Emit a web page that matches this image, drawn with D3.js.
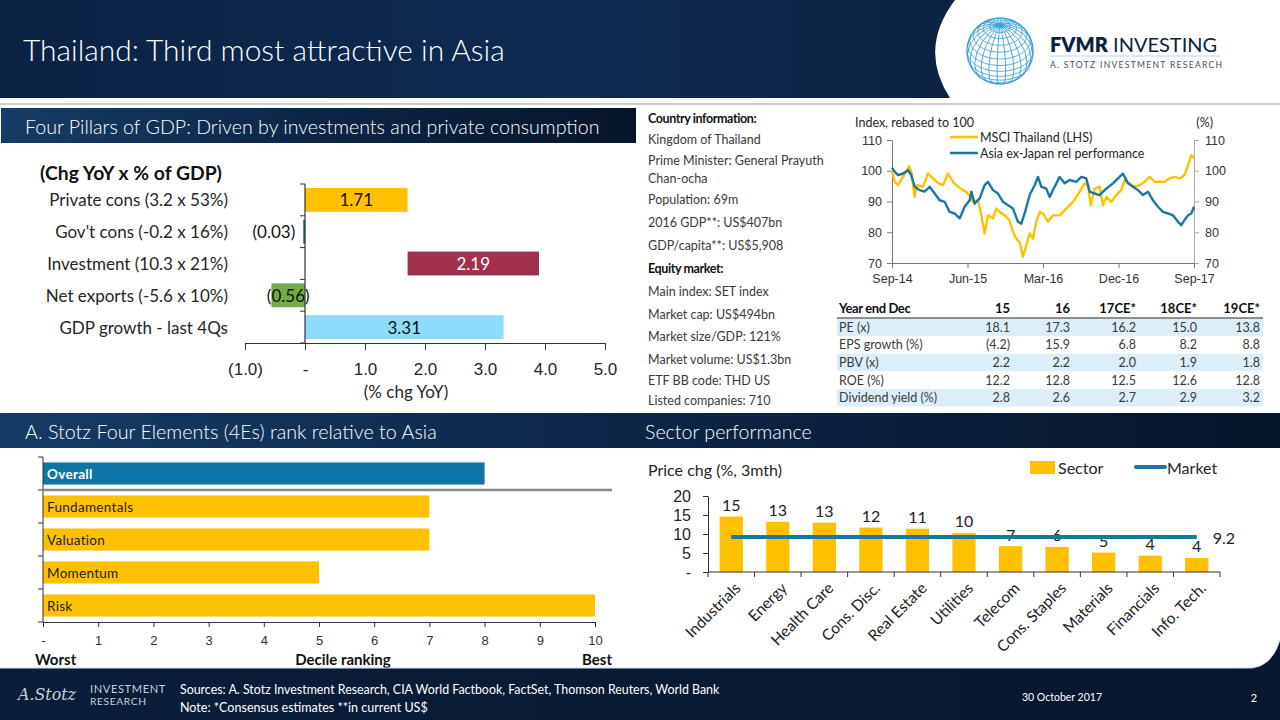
<!DOCTYPE html>
<html><head><meta charset="utf-8">
<script src="https://cdn.jsdelivr.net/npm/d3@7"></script>
<style>
body{margin:0;background:#fff;}
svg{display:block;font-family:Lato,"Open Sans","Noto Sans",sans-serif;}
</style></head>
<body><svg id="c" width="1280" height="720"></svg>
<script>
// ---------------- DATA ----------------
const titleText = "Thailand: Third most attractive in Asia";
const gdpCategories = ["Private cons (3.2 x 53%)","Gov't cons (-0.2 x 16%)","Investment (10.3 x 21%)","Net exports (-5.6 x 10%)","GDP growth - last 4Qs"];
const gdpValues = [1.71, -0.03, 2.19, -0.56, 3.31];
const gdpBase = [0, 0, 1.71, 0, 0];
const gdpValueLabels = ["1.71","(0.03)","2.19","(0.56)","3.31"];
const gdpTicks = [-1, 0, 1, 2, 3, 4, 5];
const gdpTickLabels = ["(1.0)","-","1.0","2.0","3.0","4.0","5.0"];

const countryInfo = [
  ["Country information:", true], ["Kingdom of Thailand", false], ["Prime Minister: General Prayuth", false],
  ["Chan-ocha", false], ["Population: 69m", false], ["2016 GDP**: US$407bn", false],
  ["GDP/capita**: US$5,908", false], ["Equity market:", true], ["Main index: SET index", false],
  ["Market cap: US$494bn", false], ["Market size/GDP: 121%", false], ["Market volume: US$1.3bn", false],
  ["ETF BB code: THD US", false], ["Listed companies: 710", false]
];

// months since Sep-14, index value
const msciThailand = [[0,100],[0.32,96.4],[0.72,95.3],[1.31,98],[1.91,100.8],[2.03,101.5],[2.3,99.7],[2.7,91.5],[2.98,95.3],[3.69,94.8],[4.29,99.1],[4.89,97.5],[5.48,96],[6.08,95.3],[6.67,99.1],[7.27,96.4],[7.87,94.8],[8.46,93.7],[8.98,92.9],[9.65,89.9],[10.25,90.4],[10.65,85.5],[11.04,79.6],[11.44,85.5],[12.04,84.5],[12.44,87.7],[12.83,86.6],[13.43,85.5],[14.02,83.9],[14.42,80.1],[14.82,77.9],[15.22,76.8],[15.61,72],[16.01,75.8],[16.41,79.6],[16.81,77.9],[17.2,83.4],[17.6,86.6],[18,86.1],[18.59,83.4],[19.19,85.5],[19.98,85.5],[20.78,87.7],[21.57,89.9],[22.37,93.2],[22.96,95.9],[23.36,95.3],[23.68,88.8],[24.16,94.2],[24.75,94.8],[25.15,88.8],[25.55,91.5],[26.14,89.9],[26.74,92.1],[27.33,93.7],[27.73,97],[28.33,95.9],[28.92,94.8],[29.52,95.3],[30.11,96.4],[30.71,98],[31.31,96.4],[31.9,96.4],[32.5,96.4],[33.09,97.5],[33.69,98],[34.29,97.5],[34.88,98.6],[35.28,101.8],[35.68,105.1],[36,104]];
const asiaRelPerf = [[0,101],[0.32,99.7],[0.72,98.6],[1.31,99.1],[1.91,100.2],[2.3,98.6],[2.7,94.8],[3.3,93.7],[3.89,93.2],[4.49,94.8],[5.09,92.6],[5.68,90.4],[6.28,89.9],[6.87,86.6],[7.47,86.1],[8.07,84.5],[8.66,88.3],[9.26,90.4],[9.46,93.2],[9.85,89.3],[10.45,91],[11.04,95.3],[11.44,96.4],[12.04,93.7],[12.63,92.6],[13.23,89.9],[13.83,88.8],[14.42,87.7],[15.02,83.4],[15.42,82.8],[15.81,86.1],[16.41,92.1],[17,95.3],[17.4,98],[17.8,94.8],[18.39,94.2],[18.79,91.5],[19.39,94.8],[19.98,98],[20.58,95.9],[21.18,97],[21.97,96.4],[22.57,98],[23.16,97.5],[23.56,93.2],[24.16,92.6],[24.75,92.1],[25.15,93.2],[25.55,94.2],[26.34,95.9],[26.94,97.5],[27.53,99.1],[28.13,95.9],[28.72,94.8],[29.32,93.7],[29.92,92.1],[30.51,93.2],[31.11,90.4],[31.7,88.3],[32.3,86.6],[32.9,86.1],[33.49,85.5],[34.09,83.4],[34.49,82.3],[34.88,84],[35.28,85.5],[35.68,86.1],[36,88.3]];
const lineTickMonths = [0, 9, 18, 27, 36];
const lineTickLabels = ["Sep-14","Jun-15","Mar-16","Dec-16","Sep-17"];
const lineYTicks = [70, 80, 90, 100, 110];
const lineSeriesNames = ["MSCI Thailand (LHS)", "Asia ex-Japan rel performance"];

const tableHeader = ["Year end Dec","15","16","17CE*","18CE*","19CE*"];
const tableRows = [
  ["PE (x)","18.1","17.3","16.2","15.0","13.8"],
  ["EPS growth (%)","(4.2)","15.9","6.8","8.2","8.8"],
  ["PBV (x)","2.2","2.2","2.0","1.9","1.8"],
  ["ROE (%)","12.2","12.8","12.5","12.6","12.8"],
  ["Dividend yield (%)","2.8","2.6","2.7","2.9","3.2"]
];

const elements = ["Overall","Fundamentals","Valuation","Momentum","Risk"];
const elementRanks = [8, 7, 7, 5, 10];
const decileTicks = [0,1,2,3,4,5,6,7,8,9,10];
const decileTickLabels = ["-","1","2","3","4","5","6","7","8","9","10"];

const sectors = ["Industrials","Energy","Health Care","Cons. Disc.","Real Estate","Utilities","Telecom","Cons. Staples","Materials","Financials","Info. Tech."];
const sectorValues = [14.6, 13.2, 13.0, 11.7, 11.4, 10.3, 6.8, 6.6, 5.1, 4.3, 3.7];
const sectorLabels = ["15","13","13","12","11","10","7","6","5","4","4"];
const marketValue = 9.2;
const sectorTicks = [0, 5, 10, 15, 20];
const sectorTickLabels = ["-","5","10","15","20"];

// ---------------- HELPERS ----------------
const svg = d3.select("#c");
const defs = svg.append("defs");
function grad(id, stops, x2 = 1, y2 = 0) {
  const g = defs.append("linearGradient").attr("id", id).attr("x1", 0).attr("y1", 0).attr("x2", x2).attr("y2", y2);
  stops.forEach(s => g.append("stop").attr("offset", s[0]).attr("stop-color", s[1]));
}
grad("hdr", [[0,"#0b2244"],[0.45,"#0f2b52"],[1,"#091a33"]]);
grad("sec", [[0,"#153c66"],[0.5,"#0c2547"],[1,"#07152a"]]);
grad("ftr", [[0,"#0a1d3a"],[1,"#08172e"]]);

function txt(g, x, y, s, o = {}) {
  const t = g.append("text").attr("x", x).attr("y", y).text(s)
    .attr("font-size", o.size || 12).attr("fill", o.fill || "#262626")
    .attr("text-anchor", o.anchor || "start").attr("dominant-baseline", "central");
  if (o.weight) t.attr("font-weight", o.weight);
  if (o.family) t.attr("font-family", o.family);
  if (o.style) t.attr("font-style", o.style);
  if (o.ls) t.attr("letter-spacing", o.ls);
  if (o.fitW) {
    const L = t.node().getComputedTextLength();
    if (L > 0) t.attr("font-size", (o.size || 12) * o.fitW / L);
  }
  return t;
}

// ---------------- HEADER ----------------
svg.append("rect").attr("x",0).attr("y",0).attr("width",1280).attr("height",98).attr("fill","url(#hdr)");
svg.append("path").attr("d","M955,0 Q918,49 950,98 L1280,98 L1280,0 Z").attr("fill","#fff");
svg.append("line").attr("x1",0).attr("x2",1280).attr("y1",104).attr("y2",104).attr("stroke","#c9cdd3").attr("stroke-width",2);
txt(svg, 23, 49, titleText, {size: 28, fill: "#fff", weight: 300, fitW: 482});

// logo globe
const proj = d3.geoOrthographic().scale(33).translate([1000, 51]).rotate([10, -38]).clipAngle(90);
const gpath = d3.geoPath(proj);
svg.append("path").datum({type:"Sphere"}).attr("d", gpath).attr("fill","#fff").attr("stroke","#3b9ed8").attr("stroke-width",1.2);
svg.append("path").datum(d3.geoGraticule().step([15,12])()).attr("d", gpath).attr("fill","none").attr("stroke","#3b9ed8").attr("stroke-width",0.9);
const brand = svg.append("text").attr("x",1050).attr("y",44).attr("dominant-baseline","central").attr("font-size",20).attr("fill","#0d2240");
brand.append("tspan").attr("font-weight",800).text("FVMR");
brand.append("tspan").attr("font-weight",400).text(" INVESTING");
svg.append("line").attr("x1",1050).attr("x2",1220).attr("y1",56).attr("y2",56).attr("stroke","#b9d4e6").attr("stroke-width",1);
txt(svg, 1050, 65, "A. STOTZ INVESTMENT RESEARCH", {size: 9.5, fill: "#44505e", ls: 1.3, fitW: 170});

// ---------------- SECTION BARS ----------------
svg.append("rect").attr("x",1).attr("y",108).attr("width",635).attr("height",35).attr("fill","url(#sec)");
txt(svg, 25, 126, "Four Pillars of GDP: Driven by investments and private consumption", {size: 19, fill: "#fff", weight: 300, fitW: 575});
svg.append("rect").attr("x",0).attr("y",413).attr("width",1280).attr("height",35).attr("fill","url(#sec)");
txt(svg, 25, 431, "A. Stotz Four Elements (4Es) rank relative to Asia", {size: 19, fill: "#fff", weight: 300, fitW: 412});
txt(svg, 645, 431, "Sector performance", {size: 19, fill: "#fff", weight: 300, fitW: 167});

// ---------------- GDP CHART ----------------
{
  const g = svg.append("g");
  const x = d3.scaleLinear().domain([-1, 5]).range([245, 605]);
  const y = d3.scaleBand().domain(gdpCategories).range([184, 343]).paddingInner(0.25).paddingOuter(0.125);
  const colors = ["#FFC000","#1C7395","#A1304F","#70AD47","#8EDCFB"];
  txt(g, 131, 172, "(Chg YoY x % of GDP)", {size: 18, weight: 700, anchor: "middle", fill: "#111", fitW: 182});
  gdpCategories.forEach((c, i) => {
    txt(g, 228, y(c) + y.bandwidth()/2, c, {size: 17, anchor: "end", fill: "#262626"});
    const x0 = x(gdpBase[i]), x1 = x(gdpBase[i] + gdpValues[i]);
    g.append("rect").attr("x", Math.min(x0, x1)).attr("y", y(c)).attr("width", Math.max(Math.abs(x1 - x0), 2)).attr("height", y.bandwidth()).attr("fill", colors[i]);
    const w = Math.abs(x1 - x0);
    if (w < 15) {
      txt(g, Math.min(x0, x1) - 8, y(c) + y.bandwidth()/2, gdpValueLabels[i], {size: 17, anchor: "end", fill: "#111"});
    } else {
      txt(g, (x0 + x1)/2, y(c) + y.bandwidth()/2, gdpValueLabels[i], {size: 17, anchor: "middle", fill: i === 2 ? "#fff" : "#111"});
    }
  });
  g.append("line").attr("x1", x(0)).attr("x2", x(0)).attr("y1", 184).attr("y2", 343).attr("stroke", "#333").attr("stroke-width", 1.2);
  const step = y.step();
  d3.range(gdpCategories.length + 1).forEach(k => {
    const yy = 184 + k * step;
    g.append("line").attr("x1", x(0) - 5).attr("x2", x(0)).attr("y1", yy).attr("y2", yy).attr("stroke", "#333");
  });
  const ax = g.append("g").attr("transform", "translate(0,343)")
    .call(d3.axisBottom(x).tickValues(gdpTicks).tickFormat((d, i) => gdpTickLabels[i]).tickSize(7).tickSizeOuter(0).tickPadding(13));
  ax.select(".domain").attr("stroke", "#333").attr("stroke-width", 1.2);
  ax.selectAll(".tick line").attr("stroke", "#333");
  ax.selectAll("text").attr("font-size", 17).attr("fill", "#262626").attr("font-family", null);
  txt(g, 406, 391, "(% chg YoY)", {size: 17, anchor: "middle", fill: "#262626"});
}

// ---------------- COUNTRY INFO ----------------
{
  const g = svg.append("g");
  const ys = [118, 139, 160, 178, 199, 222, 245, 268, 291, 314, 336, 359, 380, 400];
  countryInfo.forEach((d, i) => {
    txt(g, 648, ys[i], d[0], {size: 12.5, weight: d[1] ? 700 : 400, fill: d[1] ? "#111" : "#3a3a3a", ls: d[1] ? -0.4 : null});
  });
}

// ---------------- LINE CHART ----------------
{
  const g = svg.append("g");
  const x = d3.scaleLinear().domain([0, 36]).range([892, 1194]);
  const y = d3.scaleLinear().domain([70, 110]).range([263, 140]);
  txt(g, 855, 122, "Index, rebased to 100", {size: 12.5, fill: "#262626"});
  txt(g, 1213, 122, "(%)", {size: 12.5, fill: "#262626", anchor: "end"});
  const axL = g.append("g").attr("transform", "translate(892,0)").call(d3.axisLeft(y).tickValues(lineYTicks).tickSize(5).tickSizeOuter(0).tickPadding(5));
  const axR = g.append("g").attr("transform", "translate(1194,0)").call(d3.axisRight(y).tickValues(lineYTicks).tickSize(5).tickSizeOuter(0).tickPadding(6));
  const axB = g.append("g").attr("transform", "translate(0,263)").call(d3.axisBottom(x).tickValues(lineTickMonths).tickFormat((d, i) => lineTickLabels[i]).tickSize(5).tickSizeOuter(0).tickPadding(6));
  [axL, axB].forEach(a => { a.selectAll("path,line").attr("stroke", "#777"); });
  axR.selectAll("path,line").attr("stroke", "#aaa");
  [axL, axR, axB].forEach(a => a.selectAll("text").attr("font-size", 12.5).attr("fill", "#333").attr("font-family", null));
  const line = d3.line().x(d => x(d[0])).y(d => y(d[1])).curve(d3.curveLinear);
  g.append("path").datum(msciThailand).attr("d", line).attr("fill", "none").attr("stroke", "#FFC000").attr("stroke-width", 2.4).attr("stroke-linejoin", "round");
  g.append("path").datum(asiaRelPerf).attr("d", line).attr("fill", "none").attr("stroke", "#1A77A0").attr("stroke-width", 2.4).attr("stroke-linejoin", "round");
  g.append("line").attr("x1", 950).attr("x2", 978).attr("y1", 137).attr("y2", 137).attr("stroke", "#FFC000").attr("stroke-width", 2.5);
  txt(g, 980, 137, lineSeriesNames[0], {size: 12.5});
  g.append("line").attr("x1", 950).attr("x2", 978).attr("y1", 153).attr("y2", 153).attr("stroke", "#1A77A0").attr("stroke-width", 2.5);
  txt(g, 980, 153, lineSeriesNames[1], {size: 12.5});
}

// ---------------- TABLE ----------------
{
  const g = svg.append("g");
  const colRight = [null, 1010, 1070, 1136, 1197, 1260];
  const rowH = 17.6, top = 318.5;
  tableRows.forEach((r, i) => {
    if (i % 2 === 0) g.append("rect").attr("x", 837).attr("y", top + i * rowH).attr("width", 426).attr("height", rowH).attr("fill", "#DCEEF8");
  });
  g.append("line").attr("x1", 837).attr("x2", 1263).attr("y1", 318).attr("y2", 318).attr("stroke", "#222").attr("stroke-width", 1);
  tableHeader.forEach((h, j) => {
    if (j === 0) txt(g, 839, 308, h, {size: 13, weight: 700, fill: "#111", ls: -0.4});
    else txt(g, colRight[j], 308, h, {size: 13, weight: 700, fill: "#111", anchor: "end"});
  });
  tableRows.forEach((r, i) => {
    const yy = top + i * rowH + rowH / 2;
    r.forEach((c, j) => {
      if (j === 0) txt(g, 839, yy, c, {size: 12.5, fill: "#3a3a3a"});
      else txt(g, colRight[j], yy, c, {size: 12.5, fill: "#3a3a3a", anchor: "end"});
    });
  });
}

// ---------------- 4Es CHART ----------------
{
  const g = svg.append("g");
  const x = d3.scaleLinear().domain([0, 10]).range([43, 595]);
  const y = d3.scaleBand().domain(elements).range([457, 622]).paddingInner(0.33).paddingOuter(0.165);
  elements.forEach((e, i) => {
    g.append("rect").attr("x", x(0)).attr("y", y(e)).attr("width", x(elementRanks[i]) - x(0)).attr("height", y.bandwidth()).attr("fill", i === 0 ? "#0F75A6" : "#FFC000");
    txt(g, x(0) + 4, y(e) + y.bandwidth()/2, e, {size: 13.5, fill: i === 0 ? "#fff" : "#222", weight: i === 0 ? 700 : 400, ls: 0.3});
  });
  g.append("line").attr("x1", 43).attr("x2", 43).attr("y1", 457).attr("y2", 622).attr("stroke", "#333");
  d3.range(elements.length + 1).forEach(k => {
    const yy = 457 + k * y.step();
    g.append("line").attr("x1", 38).attr("x2", 43).attr("y1", yy).attr("y2", yy).attr("stroke", "#333");
  });
  g.append("line").attr("x1", 43).attr("x2", 612).attr("y1", 457 + y.step()).attr("y2", 457 + y.step()).attr("stroke", "#8a8a8a").attr("stroke-width", 2.5);
  const ax = g.append("g").attr("transform", "translate(0,622)").call(d3.axisBottom(x).tickValues(decileTicks).tickFormat((d, i) => decileTickLabels[i]).tickSize(5).tickSizeOuter(0).tickPadding(9));
  ax.selectAll("path,line").attr("stroke", "#333");
  ax.selectAll("text").attr("font-size", 13).attr("fill", "#333").attr("font-family", null);
  txt(g, 35, 659, "Worst", {size: 15, weight: 700, fill: "#111"});
  txt(g, 343, 659, "Decile ranking", {size: 15, weight: 700, fill: "#111", anchor: "middle"});
  txt(g, 612, 659, "Best", {size: 15, weight: 700, fill: "#111", anchor: "end"});
}

// ---------------- SECTOR CHART ----------------
{
  const g = svg.append("g");
  const x = d3.scaleBand().domain(sectors).range([708, 1220]).paddingInner(0.5).paddingOuter(0.25);
  const y = d3.scaleLinear().domain([0, 20]).range([572, 496]);
  txt(g, 648, 469, "Price chg (%, 3mth)", {size: 16, fill: "#262626"});
  g.append("rect").attr("x", 1030).attr("y", 461).attr("width", 25).attr("height", 13).attr("fill", "#FFC000");
  txt(g, 1058, 467, "Sector", {size: 16, fill: "#262626"});
  g.append("line").attr("x1", 1136).attr("x2", 1165).attr("y1", 467).attr("y2", 467).attr("stroke", "#1A77A0").attr("stroke-width", 4).attr("stroke-linecap", "round");
  txt(g, 1167, 467, "Market", {size: 16, fill: "#262626"});
  sectors.forEach((s, i) => {
    g.append("rect").attr("x", x(s)).attr("y", y(sectorValues[i])).attr("width", x.bandwidth()).attr("height", y(0) - y(sectorValues[i])).attr("fill", "#FFC000");
    txt(g, x(s) + x.bandwidth()/2, y(sectorValues[i]) - 12, sectorLabels[i], {size: 16, anchor: "middle", fill: "#222"});
    const cx = x(s) + x.bandwidth()/2 + 6, cy = 585;
    g.append("text").attr("x", cx).attr("y", cy).attr("text-anchor", "end").attr("dominant-baseline", "central")
      .attr("font-size", 15.5).attr("fill", "#222").attr("transform", `rotate(-45,${cx},${cy})`).text(s);
  });
  const ax = g.append("g").attr("transform", "translate(708,0)").call(d3.axisLeft(y).tickValues(sectorTicks).tickFormat((d, i) => sectorTickLabels[i]).tickSize(5).tickSizeOuter(0).tickPadding(12));
  ax.selectAll("path,line").attr("stroke", "#333");
  ax.selectAll("text").attr("font-size", 16).attr("fill", "#262626").attr("font-family", null);
  g.append("line").attr("x1", 708).attr("x2", 1220).attr("y1", 572).attr("y2", 572).attr("stroke", "#333");
  d3.range(sectors.length + 1).forEach(k => {
    const xx = 708 + x.step() * x.paddingOuter() - x.step() * x.paddingInner() / 2 + k * x.step();
    g.append("line").attr("x1", xx).attr("x2", xx).attr("y1", 572).attr("y2", 577).attr("stroke", "#333");
  });
  const mx0 = x(sectors[0]) + x.bandwidth()/2, mx1 = x(sectors[sectors.length - 1]) + x.bandwidth()/2;
  g.append("line").attr("x1", mx0).attr("x2", mx1).attr("y1", y(marketValue)).attr("y2", y(marketValue)).attr("stroke", "#1A77A0").attr("stroke-width", 4);
  txt(g, mx1 + 16, y(marketValue), String(marketValue), {size: 16, fill: "#222"});
}

// ---------------- FOOTER ----------------
{
  const g = svg.append("g");
  g.append("path").attr("d", "M0,668 L1252,668 Q1272,666 1280,640 L1280,720 L0,720 Z").attr("fill", "url(#ftr)");
  g.append("path").attr("d", "M0,668 L1252,668 Q1272,666 1280,640").attr("fill", "none").attr("stroke", "#d9dde3").attr("stroke-width", 1);
  txt(g, 18, 694, "A.Stotz", {size: 22, fill: "#c9d0d8", style: "italic", family: "'DejaVu Serif',serif", fitW: 58});
  txt(g, 90, 688, "INVESTMENT", {size: 9.5, fill: "#c9d0d8", ls: 0.6, fitW: 77});
  txt(g, 90, 701, "RESEARCH", {size: 9.5, fill: "#c9d0d8", ls: 0.6, fitW: 57});
  txt(g, 180, 689, "Sources: A. Stotz Investment Research, CIA World Factbook, FactSet, Thomson Reuters, World Bank", {size: 10.5, fill: "#fff", fitW: 540});
  txt(g, 180, 707, "Note:  *Consensus estimates **in current US$", {size: 10.5, fill: "#fff", fitW: 248});
  txt(g, 1062, 697, "30 October 2017", {size: 10.5, fill: "#fff", anchor: "middle"});
  txt(g, 1254, 697, "2", {size: 11, fill: "#fff", anchor: "middle"});
}
</script></body></html>
